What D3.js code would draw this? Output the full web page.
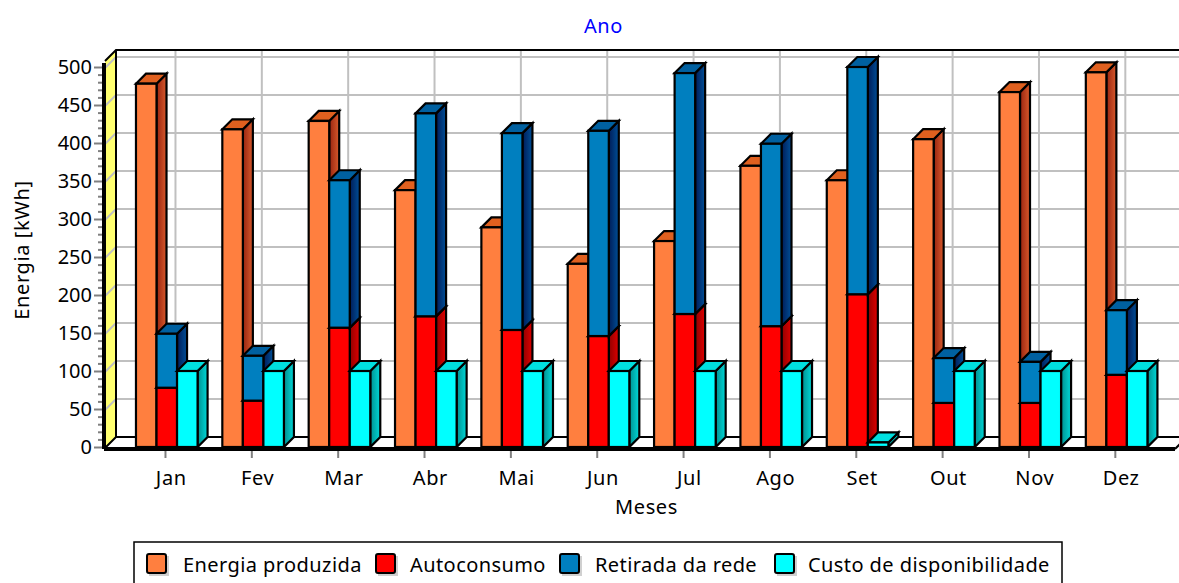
<!DOCTYPE html>
<html lang="pt">
  <head>
    <meta charset="UTF-8" />
    <title>Ano</title>
    <script src="https://cdn.jsdelivr.net/npm/d3@7"></script>
    <style>
      html, body { margin: 0; padding: 0; background: #fff; overflow: hidden; }
      svg { display: block; }
      text { font-family: "Noto Sans", sans-serif; fill: #000; }
    </style>
  </head>
  <body>
    <svg width="1179" height="583"></svg>
    <script>
      const months = ['Jan', 'Fev', 'Mar', 'Abr', 'Mai', 'Jun', 'Jul', 'Ago', 'Set', 'Out', 'Nov', 'Dez'];
      const produzida = [478, 418, 429, 338, 289, 241, 271, 370, 351, 405, 467, 493];
      const autoconsumo = [78, 61, 157, 172, 154, 146, 175, 159, 201, 58, 58, 95];
      const retirada = [71, 59, 194, 267, 259, 270, 317, 240, 299, 59, 54, 85];
      const disponibilidade = [100, 100, 100, 100, 100, 100, 100, 100, 6, 100, 100, 100];
      const yTicks = [0, 50, 100, 150, 200, 250, 300, 350, 400, 450, 500];
      const minorTicks = d3.range(0, 501, 10).filter((v) => v % 50 !== 0);

      const legendNames = ['Energia produzida', 'Autoconsumo', 'Retirada da rede', 'Custo de disponibilidade'];
      const colors = {
        orange: { front: '#ff7f3f', top: '#e0601f', side: ['#982410', '#d85a2c'] },
        red: { front: '#ff0000', top: '#e00000', side: ['#900000', '#e00000'] },
        blue: { front: '#007fbf', top: '#0060a0', side: ['#001c58', '#005098'] },
        cyan: { front: '#00ffff', top: '#00dfdf', side: ['#009090', '#00d8d8'] },
      };
      const legendColors = [colors.orange.front, colors.red.front, colors.blue.front, colors.cyan.front];

      const svg = d3.select('svg');
      const depth = 10; // deslocamento 3D
      const fontSize = 20;
      const spacing = '0.6px';
      const legendSpacing = '0.42px';

      const y = d3.scaleLinear().domain([0, 500]).range([447, 67]);
      const x = d3.scaleBand().domain(months).range([123.1, 1159.3]);
      const inner = d3.scaleBand().domain(['a', 'b', 'c']).range([0, 61.6]);
      const groupStart = (m) => x(m) + (x.bandwidth() - 61.6) / 2 + 0.5;

      // gradientes das faces laterais
      const defs = svg.append('defs');
      Object.entries(colors).forEach(([name, c]) => {
        const g = defs.append('linearGradient').attr('id', 'side-' + name);
        g.append('stop').attr('offset', '0%').attr('stop-color', c.side[0]);
        g.append('stop').attr('offset', '100%').attr('stop-color', c.side[1]);
      });

      // parede esquerda
      const wallLeft = 105;
      const wallBack = 116;
      const right = 1189;
      svg.append('path')
        .attr('d', `M${wallLeft},${y(500) - 6}L${wallBack},${y(500) - 17}V${y(0) - depth}L${wallLeft},${y(0) + 1}Z`)
        .attr('fill', '#ffff70');

      // grade
      const grid = svg.append('g').attr('stroke', '#c0c0c0').attr('stroke-width', 2).attr('fill', 'none');
      yTicks.slice(1).forEach((v) => {
        grid.append('path').attr('d', `M${wallLeft},${y(v) + 1}L${wallBack},${y(v) - depth}H${right}`);
      });
      months.forEach((m) => {
        const gx = x(m) + x.bandwidth() / 2 - 0.8 + depth;
        grid.append('line').attr('x1', gx).attr('x2', gx).attr('y1', y(500) - 17).attr('y2', y(0) - depth);
      });

      // linhas do fundo e do chão
      svg.append('path')
        .attr('d', `M${wallLeft},${y(500) - 6}L${wallBack},${y(500) - 17}H${right}`)
        .attr('stroke', '#000').attr('stroke-width', 2).attr('fill', 'none');
      svg.append('path')
        .attr('d', `M${wallLeft},${y(0) + 1}L${wallBack},${y(0) - depth}H${right}M${wallBack},${y(500) - 17}V${y(0) - depth}`)
        .attr('stroke', '#000').attr('stroke-width', 2).attr('fill', 'none');
      svg.append('path')
        .attr('d', `M1175,${y(0) + 2}L1185,${y(0) - 8}`)
        .attr('stroke', '#000').attr('stroke-width', 2).attr('fill', 'none');

      // eixo Y
      const axisY = d3.axisLeft(y).tickValues(yTicks).tickSize(10).tickPadding(2);
      const gy = svg.append('g').attr('transform', 'translate(104,0)').call(axisY);
      gy.select('.domain').remove();
      gy.selectAll('.tick line').attr('stroke', '#808080').attr('stroke-width', 2);
      gy.selectAll('.tick text').attr('font-size', fontSize).attr('font-family', '"Noto Sans"');
      const gyMinor = svg.append('g').attr('transform', 'translate(104,0)')
        .call(d3.axisLeft(y).tickValues(minorTicks).tickSize(6).tickFormat(''));
      gyMinor.select('.domain').remove();
      gyMinor.selectAll('.tick line').attr('stroke', '#808080').attr('stroke-width', 2);
      svg.append('line')
        .attr('x1', 104).attr('x2', 104).attr('y1', y(500) - 4).attr('y2', y(0) + 2)
        .attr('stroke', '#000').attr('stroke-width', 4);

      // barra 3D
      function box(parent, bx, w, v0, v1, c) {
        const t = y(v1);
        const b = y(v0);
        const g = parent.append('g').attr('stroke', '#000').attr('stroke-width', 2.2).attr('stroke-linejoin', 'miter');
        g.append('path')
          .attr('d', `M${bx + w},${t}L${bx + w + depth},${t - depth}V${b - depth}L${bx + w},${b}Z`)
          .attr('fill', 'url(#side-' + c + ')');
        g.append('path')
          .attr('d', `M${bx},${t}L${bx + depth},${t - depth}H${bx + w + depth}L${bx + w},${t}Z`)
          .attr('fill', colors[c].top);
        g.append('rect')
          .attr('x', bx).attr('y', t).attr('width', w).attr('height', b - t)
          .attr('fill', colors[c].front);
      }

      const bars = svg.append('g');
      months.forEach((m, i) => {
        const s = groupStart(m);
        const w = inner.bandwidth();
        box(bars, s + inner('a'), w, 0, produzida[i], 'orange');
        box(bars, s + inner('b'), w, 0, autoconsumo[i], 'red');
        box(bars, s + inner('b'), w, autoconsumo[i], autoconsumo[i] + retirada[i], 'blue');
        box(bars, s + inner('c'), w, 0, disponibilidade[i], 'cyan');
      });

      // eixo X
      svg.append('line')
        .attr('x1', 104).attr('x2', 1175).attr('y1', y(0) + 2).attr('y2', y(0) + 2)
        .attr('stroke', '#000').attr('stroke-width', 4);
      const axisX = d3.axisBottom(x).tickSize(0).tickPadding(0);
      const gx = svg.append('g').attr('transform', `translate(0,${y(0)})`).call(axisX);
      gx.select('.domain').remove();
      gx.selectAll('.tick line').remove();
      gx.selectAll('.tick').each(function () {
        const t = d3.select(this);
        t.append('line').attr('x1', -0.8).attr('x2', -0.8).attr('y1', 4).attr('y2', 11)
          .attr('stroke', '#808080').attr('stroke-width', 2);
      });
      gx.selectAll('.tick text')
        .attr('font-size', fontSize).attr('font-family', '"Noto Sans"')
        .attr('letter-spacing', spacing)
        .attr('dy', null).attr('y', 38).attr('x', 5);

      // títulos
      svg.append('text').text('Ano')
        .attr('x', 603.5).attr('y', 33).attr('text-anchor', 'middle')
        .attr('font-size', fontSize).attr('letter-spacing', spacing).style('fill', '#0000ff');
      svg.append('text').text('Meses')
        .attr('x', 646.5).attr('y', 514).attr('text-anchor', 'middle')
        .attr('font-size', fontSize).attr('letter-spacing', spacing);
      svg.append('text').text('Energia [kWh]')
        .attr('transform', 'translate(29,250) rotate(-90)')
        .attr('text-anchor', 'middle').attr('font-size', fontSize).attr('letter-spacing', spacing);

      // legenda
      svg.append('rect')
        .attr('x', 134).attr('y', 542).attr('width', 928).attr('height', 60)
        .attr('fill', '#fff').attr('stroke', '#000').attr('stroke-width', 1.5);
      const legendSwatch = [147, 376, 560, 775];
      const legendText = [183, 410, 595, 808];
      legendNames.forEach((name, i) => {
        svg.append('rect')
          .attr('x', legendSwatch[i] + 2).attr('y', 556).attr('width', 20).attr('height', 20)
          .attr('fill', '#d0d0d0');
        svg.append('rect')
          .attr('x', legendSwatch[i]).attr('y', 554).attr('width', 19).attr('height', 19)
          .attr('rx', 2)
          .attr('fill', legendColors[i]).attr('stroke', '#000').attr('stroke-width', 2);
        svg.append('text').text(name)
          .attr('x', legendText[i]).attr('y', 572)
          .attr('font-size', fontSize).attr('letter-spacing', legendSpacing);
      });
    </script>
  </body>
</html>
